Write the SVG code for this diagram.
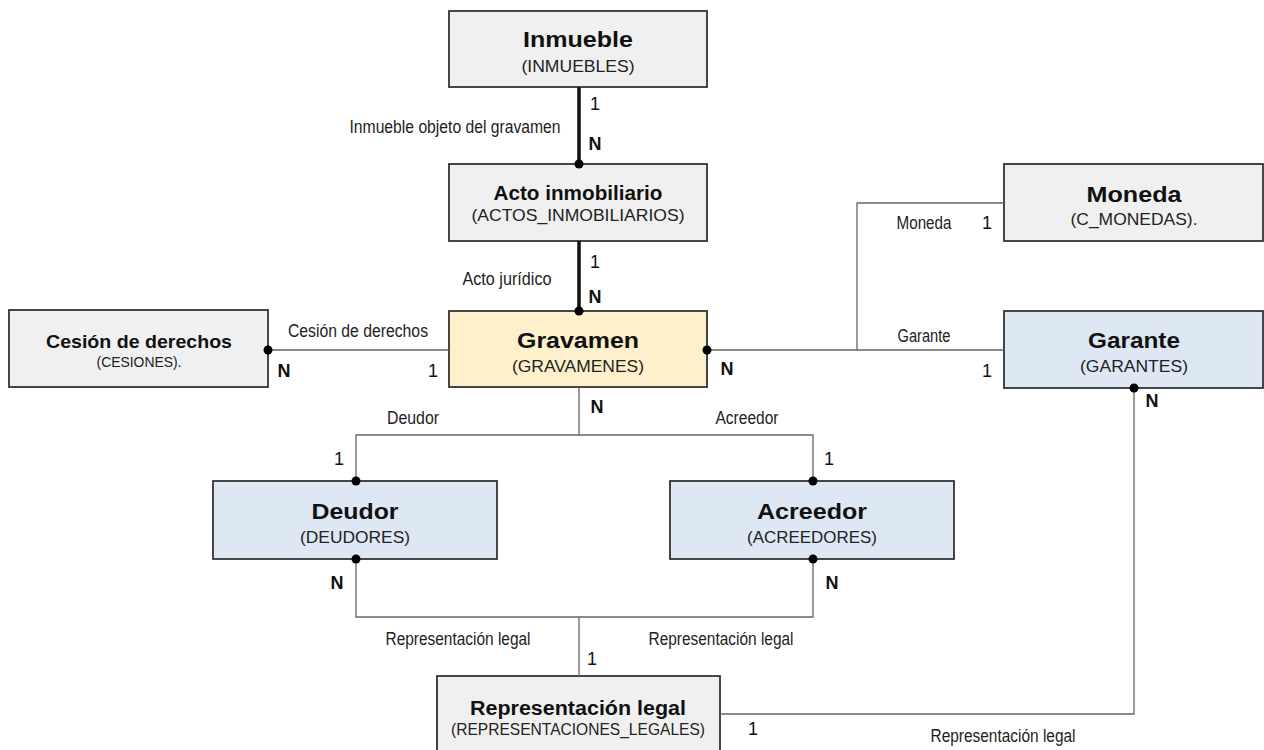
<svg xmlns="http://www.w3.org/2000/svg" width="1264" height="750" viewBox="0 0 1264 750">
<style>
.box{stroke:#333;stroke-width:1.8}
.gray{fill:#f0f0f0}
.yellow{fill:#fdf0cb}
.blue{fill:#dee8f4}
.t{font-family:"Liberation Sans",Arial,sans-serif;font-weight:bold;font-size:22px;fill:#111;text-anchor:middle}
.s{font-family:"Liberation Sans",Arial,sans-serif;font-size:17px;fill:#222;text-anchor:middle}
.lbl{font-family:"Liberation Sans Narrow","Liberation Sans",Arial,sans-serif;font-size:17.5px;fill:#222;text-anchor:middle}
.card{font-family:"Liberation Sans Narrow","Liberation Sans",Arial,sans-serif;font-size:18px;fill:#111;text-anchor:middle}
.cn{font-weight:bold}
.ln{fill:none;stroke:#666;stroke-width:1.3}
.thick{fill:none;stroke:#111;stroke-width:3.5}
.dot{fill:#000}
</style>
<g id="inmueble">
<rect class="box gray" x="449" y="11" width="258" height="76"/>
<text class="t" x="578" y="47" textLength="110" lengthAdjust="spacingAndGlyphs">Inmueble</text>
<text class="s" x="578" y="72" textLength="113" lengthAdjust="spacingAndGlyphs">(INMUEBLES)</text>
</g>
<g id="acto">
<rect class="box gray" x="449" y="164" width="258" height="77"/>
<text class="t" x="578" y="200" style="font-size:20px" textLength="169" lengthAdjust="spacingAndGlyphs">Acto inmobiliario</text>
<text class="s" x="578" y="221" textLength="213" lengthAdjust="spacingAndGlyphs">(ACTOS_INMOBILIARIOS)</text>
</g>
<g id="cesion">
<rect class="box gray" x="9" y="310" width="259" height="77"/>
<text class="t" x="139" y="348" style="font-size:19px" textLength="186" lengthAdjust="spacingAndGlyphs">Cesión de derechos</text>
<text class="s" x="139" y="367" style="font-size:14px" textLength="85" lengthAdjust="spacingAndGlyphs">(CESIONES).</text>
</g>
<g id="gravamen">
<rect class="box yellow" x="449" y="311" width="258" height="76"/>
<text class="t" x="578" y="348" textLength="122" lengthAdjust="spacingAndGlyphs">Gravamen</text>
<text class="s" x="578" y="372" textLength="132" lengthAdjust="spacingAndGlyphs">(GRAVAMENES)</text>
</g>
<g id="moneda">
<rect class="box gray" x="1004" y="164" width="259" height="77"/>
<text class="t" x="1134" y="202" textLength="95" lengthAdjust="spacingAndGlyphs">Moneda</text>
<text class="s" x="1134" y="225" textLength="127" lengthAdjust="spacingAndGlyphs">(C_MONEDAS).</text>
</g>
<g id="garante">
<rect class="box blue" x="1004" y="311" width="259" height="77"/>
<text class="t" x="1134" y="348" textLength="92" lengthAdjust="spacingAndGlyphs">Garante</text>
<text class="s" x="1134" y="372" textLength="108" lengthAdjust="spacingAndGlyphs">(GARANTES)</text>
</g>
<g id="deudor">
<rect class="box blue" x="213" y="481" width="284" height="78"/>
<text class="t" x="355" y="519" textLength="87" lengthAdjust="spacingAndGlyphs">Deudor</text>
<text class="s" x="355" y="543" textLength="110" lengthAdjust="spacingAndGlyphs">(DEUDORES)</text>
</g>
<g id="acreedor">
<rect class="box blue" x="670" y="481" width="284" height="78"/>
<text class="t" x="812" y="519" textLength="110" lengthAdjust="spacingAndGlyphs">Acreedor</text>
<text class="s" x="812" y="543" textLength="130" lengthAdjust="spacingAndGlyphs">(ACREEDORES)</text>
</g>
<g id="representacion">
<rect class="box gray" x="437" y="676" width="283" height="80"/>
<text class="t" x="578" y="715" style="font-size:20px" textLength="216" lengthAdjust="spacingAndGlyphs">Representación legal</text>
<text class="s" x="578" y="735" textLength="254" lengthAdjust="spacingAndGlyphs">(REPRESENTACIONES_LEGALES)</text>
</g>
<g id="connectors">
<line class="thick" x1="579" y1="87" x2="579" y2="164"/>
<line class="thick" x1="579" y1="241" x2="579" y2="311"/>
<line class="ln" x1="268" y1="350" x2="449" y2="350"/>
<line class="ln" x1="707" y1="350" x2="1004" y2="350"/>
<polyline class="ln" points="857,350 857,203 1004,203"/>
<polyline class="ln" points="579,387 579,435"/>
<polyline class="ln" points="356,481 356,435 813,435 813,481"/>
<polyline class="ln" points="356,559 356,617 813,617 813,559"/>
<line class="ln" x1="579" y1="617" x2="579" y2="676"/>
<polyline class="ln" points="1134,388 1134,714 720,714"/>
<circle class="dot" cx="579" cy="164" r="4.5"/>
<circle class="dot" cx="579" cy="311" r="4.5"/>
<circle class="dot" cx="268" cy="350" r="4.5"/>
<circle class="dot" cx="707" cy="350" r="4.5"/>
<circle class="dot" cx="356" cy="481" r="4.5"/>
<circle class="dot" cx="356" cy="559" r="4.5"/>
<circle class="dot" cx="813" cy="481" r="4.5"/>
<circle class="dot" cx="813" cy="559" r="4.5"/>
<circle class="dot" cx="1134" cy="388" r="4.5"/>
<text class="lbl" x="455" y="133" textLength="211" lengthAdjust="spacingAndGlyphs">Inmueble objeto del gravamen</text>
<text class="card" x="595" y="110">1</text>
<text class="card cn" x="595" y="150">N</text>
<text class="lbl" x="507" y="285" textLength="89" lengthAdjust="spacingAndGlyphs">Acto jurídico</text>
<text class="card" x="595" y="268">1</text>
<text class="card cn" x="595" y="303">N</text>
<text class="lbl" x="358" y="337" textLength="140" lengthAdjust="spacingAndGlyphs">Cesión de derechos</text>
<text class="card cn" x="284" y="377">N</text>
<text class="card" x="433" y="377">1</text>
<text class="lbl" x="924" y="229" textLength="55" lengthAdjust="spacingAndGlyphs">Moneda</text>
<text class="card" x="987" y="229">1</text>
<text class="lbl" x="924" y="342" textLength="53" lengthAdjust="spacingAndGlyphs">Garante</text>
<text class="card cn" x="727" y="375">N</text>
<text class="card" x="987" y="377">1</text>
<text class="card cn" x="597" y="413">N</text>
<text class="lbl" x="413" y="424" textLength="52" lengthAdjust="spacingAndGlyphs">Deudor</text>
<text class="lbl" x="747" y="424" textLength="63" lengthAdjust="spacingAndGlyphs">Acreedor</text>
<text class="card" x="339" y="465">1</text>
<text class="card" x="829" y="465">1</text>
<text class="card cn" x="337" y="589">N</text>
<text class="card cn" x="832" y="589">N</text>
<text class="card cn" x="1152" y="407">N</text>
<text class="lbl" x="458" y="645" textLength="145" lengthAdjust="spacingAndGlyphs">Representación legal</text>
<text class="lbl" x="721" y="645" textLength="145" lengthAdjust="spacingAndGlyphs">Representación legal</text>
<text class="card" x="592" y="665">1</text>
<text class="card" x="753" y="735">1</text>
<text class="lbl" x="1003" y="742" textLength="145" lengthAdjust="spacingAndGlyphs">Representación legal</text>
</g>
</svg>
